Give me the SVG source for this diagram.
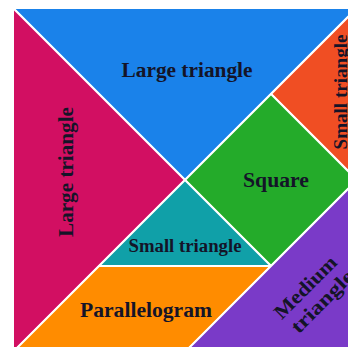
<svg xmlns="http://www.w3.org/2000/svg" width="348" height="347" viewBox="0 0 348 347">
<style>
.p{stroke:#ffffff;stroke-width:2;stroke-linejoin:round}
.t{font-family:"Liberation Serif","Times New Roman",serif;font-weight:bold;fill:#141428;text-anchor:middle}
</style>
<rect width="348" height="347" fill="#ffffff"/>
<g id="large-triangle-top"><polygon class="p" points="13,8 357,8 185,180" fill="#1a82ea"/><text class="t" x="187" y="77" font-size="20" textLength="131" lengthAdjust="spacingAndGlyphs">Large triangle</text></g>
<g id="large-triangle-left"><polygon class="p" points="13,8 185,180 13,352" fill="#d20f62"/><text class="t" font-size="20" textLength="130" lengthAdjust="spacingAndGlyphs" transform="translate(73,172) rotate(-90)">Large triangle</text></g>
<g id="small-triangle-right"><polygon class="p" points="357,8 271,94 357,180" fill="#f04e23"/><text class="t" font-size="18" textLength="115" lengthAdjust="spacingAndGlyphs" transform="translate(347,92) rotate(-90)">Small triangle</text></g>
<g id="square"><polygon class="p" points="271,94 357,180 271,266 185,180" fill="#24ab2a"/><text class="t" x="276" y="187" font-size="20" textLength="66" lengthAdjust="spacingAndGlyphs">Square</text></g>
<g id="small-triangle-bottom"><polygon class="p" points="185,180 271,266 99,266" fill="#10a0a8"/><text class="t" x="185" y="252" font-size="18" textLength="113" lengthAdjust="spacingAndGlyphs">Small triangle</text></g>
<g id="parallelogram"><polygon class="p" points="99,266 271,266 185,352 13,352" fill="#ff8c00"/><text class="t" x="146" y="317" font-size="21" textLength="132" lengthAdjust="spacingAndGlyphs">Parallelogram</text></g>
<g id="medium-triangle"><polygon class="p" points="357,180 357,352 185,352" fill="#7a3ac8"/><text class="t" font-size="20" transform="translate(305,287) rotate(-45)"><tspan x="0" y="7" textLength="80" lengthAdjust="spacingAndGlyphs">Medium</tspan><tspan x="2" y="29" textLength="80" lengthAdjust="spacingAndGlyphs">triangle</tspan></text></g>
<g id="connectors"/>
</svg>
